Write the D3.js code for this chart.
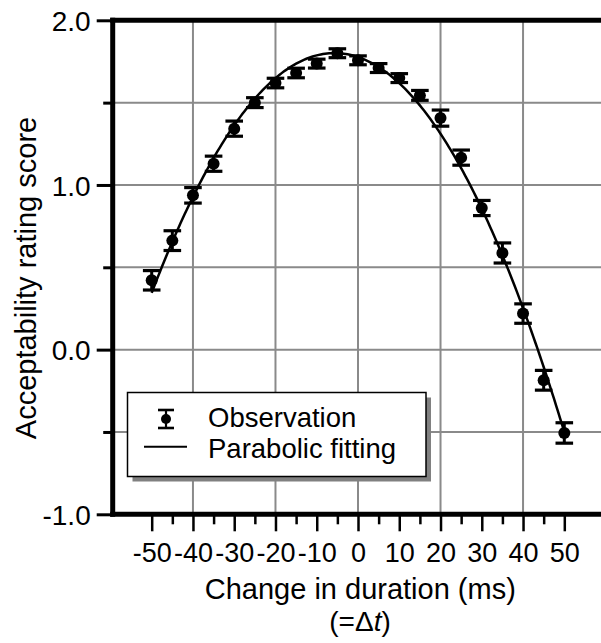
<!DOCTYPE html>
<html>
<head>
<meta charset="utf-8">
<script src="https://cdn.jsdelivr.net/npm/d3@7"></script>
<style>
  html, body { margin: 0; padding: 0; background: #fff; }
  svg { display: block; font-family: "Liberation Sans", Arial, Helvetica, sans-serif; }
</style>
</head>
<body>
<svg id="chart" width="601" height="643"></svg>
<script>
// Change in duration (ms) for each stimulus step
const durations = [-50, -45, -40, -35, -30, -25, -20, -15, -10, -5, 0, 5, 10, 15, 20, 25, 30, 35, 40, 45, 50];
// Mean acceptability rating score at each step
const scores = [0.421, 0.662, 0.937, 1.129, 1.342, 1.500, 1.619, 1.680, 1.737, 1.800, 1.757, 1.710, 1.649, 1.544, 1.406, 1.166, 0.860, 0.587, 0.219, -0.186, -0.506];
// Standard error of each mean
const errors = [0.059, 0.060, 0.047, 0.046, 0.046, 0.030, 0.029, 0.029, 0.027, 0.027, 0.027, 0.027, 0.027, 0.030, 0.049, 0.046, 0.046, 0.061, 0.059, 0.060, 0.062];

const xMajorTicks = [-50, -40, -30, -20, -10, 0, 10, 20, 30, 40, 50];
const xMinorTicks = [-45, -35, -25, -15, -5, 5, 15, 25, 35, 45];
const xGrid = [-40, -20, 0, 20, 40];
const yMajorTicks = [2.0, 1.0, 0.0, -1.0];
const yMinorTicks = [1.5, 0.5, -0.5];
const yGrid = [1.5, 1.0, 0.5, 0.0, -0.5];
const legendLabels = ["Observation", "Parabolic fitting"];
const xTitle = "Change in duration (ms)";
const yTitle = "Acceptability rating score";

const svg = d3.select("#chart");
const W = 601;
const FONT = "'Liberation Sans', Arial, Helvetica, sans-serif";

const x = d3.scaleLinear().domain([-50, 50]).range([151.7, 564.3]);
const y = d3.scaleLinear().domain([-1, 2]).range([514.3, 20.3]);
const xLeft = x(-59.45);

// Least-squares parabola through the observations
function quadFit(xs, ys) {
  const n = xs.length;
  let s0 = n, s1 = 0, s2 = 0, s3 = 0, s4 = 0, t0 = 0, t1 = 0, t2 = 0;
  xs.forEach((xi, i) => {
    const yi = ys[i];
    s1 += xi; s2 += xi * xi; s3 += xi ** 3; s4 += xi ** 4;
    t0 += yi; t1 += xi * yi; t2 += xi * xi * yi;
  });
  const M = [[s0, s1, s2, t0], [s1, s2, s3, t1], [s2, s3, s4, t2]];
  for (let c = 0; c < 3; c++) {
    for (let r = c + 1; r < 3; r++) {
      const f = M[r][c] / M[c][c];
      for (let k = c; k < 4; k++) M[r][k] -= f * M[c][k];
    }
  }
  const sol = [0, 0, 0];
  for (let r = 2; r >= 0; r--) {
    let s = M[r][3];
    for (let k = r + 1; k < 3; k++) s -= M[r][k] * sol[k];
    sol[r] = s / M[r][r];
  }
  return sol; // [a, b, c] for a + b x + c x^2
}
const [ca, cb, cc] = quadFit(durations, scores);
const fitX = d3.range(-50, 50.01, 0.5);
const fitLine = fitX.map(t => [t, ca + cb * t + cc * t * t]);

const grey = "#8a8a8a";

// grid
svg.append("g").selectAll("line").data(yGrid).join("line")
  .attr("x1", xLeft).attr("x2", W)
  .attr("y1", d => y(d)).attr("y2", d => y(d))
  .attr("stroke", grey).attr("stroke-width", 2);
svg.append("g").selectAll("line").data(xGrid).join("line")
  .attr("x1", d => x(d)).attr("x2", d => x(d))
  .attr("y1", y(2)).attr("y2", y(-1))
  .attr("stroke", grey).attr("stroke-width", 2);

// bottom axis: minor and major ticks
const axB = svg.append("g").attr("transform", `translate(0,${y(-1)})`);
axB.append("g").call(d3.axisBottom(x).tickValues(xMinorTicks).tickSize(10).tickFormat(""));
const axBMaj = axB.append("g").call(d3.axisBottom(x).tickValues(xMajorTicks).tickSize(17).tickFormat(d3.format("d")));
axB.selectAll(".domain").remove();
axB.selectAll(".tick line").attr("stroke", "#000").attr("stroke-width", 2.5);
axBMaj.selectAll(".tick text")
  .attr("y", 47.4).attr("dy", null)
  .attr("font-size", 27).attr("fill", "#000")
  .style("font-family", FONT)
  .text(d => d < 0 ? "-" + Math.abs(d) : String(d));

// left axis
const axL = svg.append("g").attr("transform", `translate(${xLeft},0)`);
axL.append("g").call(d3.axisLeft(y).tickValues(yMinorTicks).tickSize(9.5).tickFormat(""));
const axLMaj = axL.append("g").call(d3.axisLeft(y).tickValues(yMajorTicks).tickSize(16).tickPadding(6).tickFormat(d3.format(".1f")));
axL.selectAll(".domain").remove();
axL.selectAll(".tick line").attr("stroke", "#000").attr("stroke-width", 3);
axLMaj.selectAll(".tick text")
  .attr("dy", "0.36em")
  .attr("font-size", 28).attr("fill", "#000")
  .style("font-family", FONT)
  .text(d => d3.format(".1f")(d).replace("−", "-"));

// frame (left, top, bottom)
svg.append("line").attr("x1", xLeft).attr("x2", xLeft).attr("y1", y(2) - 2.5).attr("y2", y(-1) + 2.5)
  .attr("stroke", "#000").attr("stroke-width", 5);
svg.append("line").attr("x1", xLeft - 2.5).attr("x2", W).attr("y1", y(2)).attr("y2", y(2))
  .attr("stroke", "#000").attr("stroke-width", 5);
svg.append("line").attr("x1", xLeft - 2.5).attr("x2", W).attr("y1", y(-1)).attr("y2", y(-1))
  .attr("stroke", "#000").attr("stroke-width", 5);

// fitted parabola
svg.append("path").datum(fitLine)
  .attr("fill", "none").attr("stroke", "#000").attr("stroke-width", 2.5)
  .attr("d", d3.line().x(d => x(d[0])).y(d => y(d[1])));

// observations with error bars
const obs = durations.map((d, i) => ({ t: d, v: scores[i], e: errors[i] }));
const capW = 8.8;
const pts = svg.append("g").selectAll("g").data(obs).join("g");
pts.append("line")
  .attr("x1", d => x(d.t)).attr("x2", d => x(d.t))
  .attr("y1", d => y(d.v + d.e)).attr("y2", d => y(d.v - d.e))
  .attr("stroke", "#000").attr("stroke-width", 3);
pts.append("line")
  .attr("x1", d => x(d.t) - capW).attr("x2", d => x(d.t) + capW)
  .attr("y1", d => y(d.v + d.e)).attr("y2", d => y(d.v + d.e))
  .attr("stroke", "#000").attr("stroke-width", 3.2);
pts.append("line")
  .attr("x1", d => x(d.t) - capW).attr("x2", d => x(d.t) + capW)
  .attr("y1", d => y(d.v - d.e)).attr("y2", d => y(d.v - d.e))
  .attr("stroke", "#000").attr("stroke-width", 3.2);
pts.append("circle")
  .attr("cx", d => x(d.t)).attr("cy", d => y(d.v)).attr("r", 6)
  .attr("fill", "#000");

// legend
const lg = svg.append("g").attr("transform", "translate(127.5,392.5)");
const lgW = 298.5, lgH = 84;
lg.append("rect").attr("x", 5).attr("y", 5).attr("width", lgW).attr("height", lgH).attr("fill", "#808080");
lg.append("rect").attr("x", 0).attr("y", 0).attr("width", lgW).attr("height", lgH)
  .attr("fill", "#fff").attr("stroke", "#000").attr("stroke-width", 1.5);
// marker sample
const mx = 38.5, my = 26.5;
lg.append("line").attr("x1", mx).attr("x2", mx).attr("y1", my - 9).attr("y2", my + 9).attr("stroke", "#000").attr("stroke-width", 2.2);
lg.append("line").attr("x1", mx - 8).attr("x2", mx + 8).attr("y1", my - 9).attr("y2", my - 9).attr("stroke", "#000").attr("stroke-width", 2.6);
lg.append("line").attr("x1", mx - 8).attr("x2", mx + 8).attr("y1", my + 9).attr("y2", my + 9).attr("stroke", "#000").attr("stroke-width", 2.6);
lg.append("circle").attr("cx", mx).attr("cy", my).attr("r", 5).attr("fill", "#000");
// line sample
lg.append("line").attr("x1", 16.5).attr("x2", 59.5).attr("y1", 54.2).attr("y2", 54.2).attr("stroke", "#000").attr("stroke-width", 2);
lg.selectAll("text").data(legendLabels).join("text")
  .attr("x", 80.5).attr("y", (d, i) => 34.5 + i * 31)
  .attr("font-size", 27.5).attr("fill", "#000")
  .text(d => d);

// axis titles
svg.append("text").attr("transform", "translate(36,278) rotate(-90)")
  .attr("text-anchor", "middle").attr("font-size", 29).attr("fill", "#000").text(yTitle);
svg.append("text").attr("x", 360.3).attr("y", 598.5)
  .attr("text-anchor", "middle").attr("font-size", 29).attr("fill", "#000").text(xTitle);
const sub = svg.append("text").attr("x", 360).attr("y", 631)
  .attr("text-anchor", "middle").attr("font-size", 28).attr("fill", "#000");
sub.append("tspan").text("(=\u0394");
sub.append("tspan").attr("font-style", "italic").text("t");
sub.append("tspan").text(")");
</script>
</body>
</html>
